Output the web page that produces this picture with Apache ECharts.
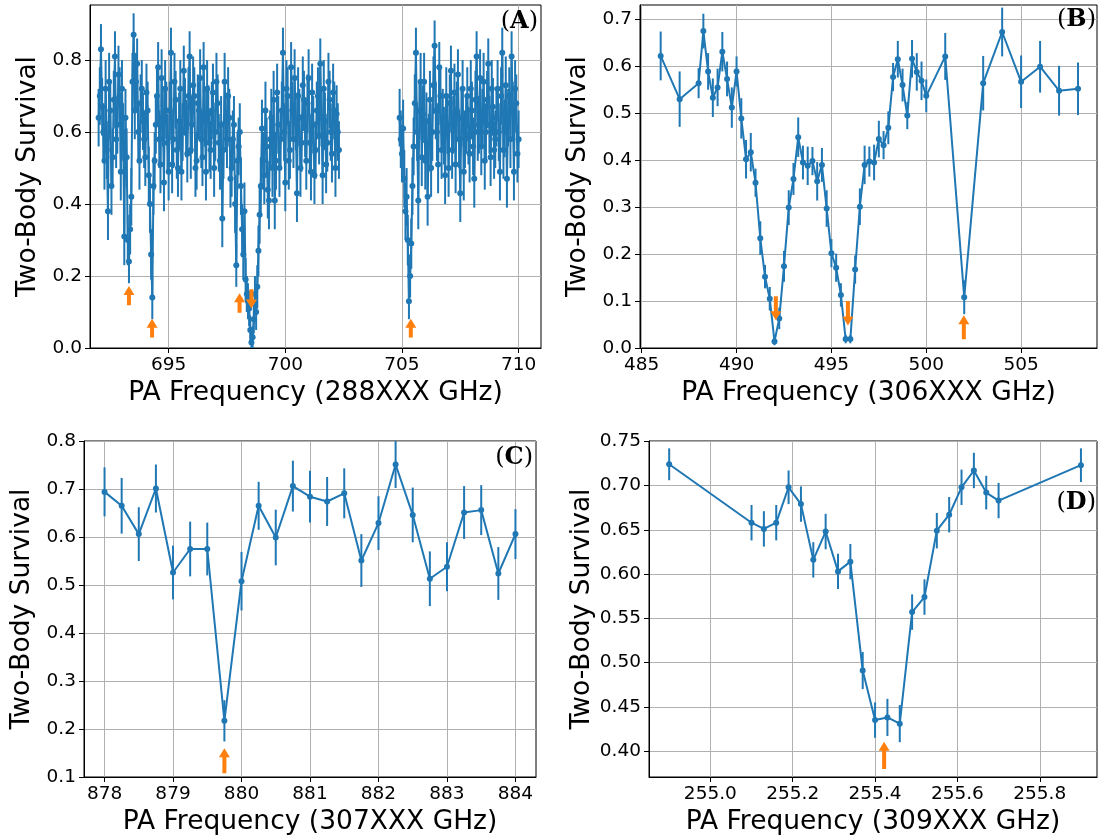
<!DOCTYPE html>
<html><head><meta charset="utf-8">
<script src="https://cdn.jsdelivr.net/npm/echarts@6/dist/echarts.min.js"></script>
<style>html,body{margin:0;padding:0;background:#fff}#c{width:1098px;height:838px}</style>
</head><body><div id="c"></div>
<script>
// ---------- Panel A : [frequency, survival, error] ----------
const scanA1 = [
[692.0,0.64,0.08],[692.05,0.70,0.08],[692.1,0.83,0.07],[692.15,0.67,0.08],[692.2,0.60,0.08],[692.25,0.52,0.08],[692.3,0.72,0.08],[692.35,0.55,0.08],[692.4,0.38,0.08],[692.45,0.74,0.08],
[692.5,0.66,0.08],[692.55,0.45,0.08],[692.6,0.53,0.08],[692.65,0.69,0.08],[692.7,0.81,0.07],[692.75,0.58,0.08],[692.8,0.62,0.08],[692.85,0.76,0.08],[692.9,0.70,0.08],[692.95,0.49,0.08],
[693.0,0.72,0.08],[693.05,0.60,0.08],[693.1,0.31,0.08],[693.15,0.64,0.08],[693.2,0.53,0.08],[693.25,0.30,0.07],[693.3,0.24,0.06],[693.35,0.33,0.07],[693.4,0.42,0.08],[693.45,0.74,0.08],
[693.5,0.87,0.06],[693.55,0.66,0.08],[693.6,0.74,0.08],[693.65,0.79,0.07],[693.7,0.60,0.08],[693.75,0.52,0.08],[693.8,0.68,0.08],[693.85,0.72,0.08],[693.9,0.63,0.08],[693.95,0.58,0.08],
[694.0,0.53,0.08],[694.05,0.71,0.08],[694.1,0.66,0.08],[694.15,0.48,0.08],[694.2,0.40,0.08],[694.25,0.26,0.07],[694.3,0.14,0.06],[694.35,0.45,0.08],[694.4,0.52,0.08],[694.45,0.62,0.08],
[694.5,0.70,0.08],[694.55,0.78,0.07],[694.6,0.58,0.08],[694.65,0.51,0.08],[694.7,0.75,0.08],[694.75,0.64,0.08],[694.8,0.46,0.08],[694.85,0.72,0.08],[694.9,0.66,0.08],[694.95,0.57,0.08],
[695.0,0.49,0.08],[695.05,0.66,0.08],[695.1,0.82,0.07],[695.15,0.51,0.08],[695.2,0.58,0.08],[695.25,0.74,0.08],[695.3,0.69,0.08],[695.35,0.55,0.08],[695.4,0.50,0.08],[695.45,0.63,0.08],
[695.5,0.72,0.08],[695.55,0.49,0.08],[695.6,0.60,0.08],[695.65,0.77,0.07],[695.7,0.67,0.08],[695.75,0.61,0.08],[695.8,0.54,0.08],[695.85,0.70,0.08],[695.9,0.81,0.07],[695.95,0.55,0.08],
[696.0,0.62,0.08],[696.05,0.73,0.08],[696.1,0.70,0.08],[696.15,0.50,0.08],[696.2,0.52,0.08],[696.25,0.68,0.08],[696.3,0.66,0.08],[696.35,0.75,0.08],[696.4,0.58,0.08],[696.45,0.53,0.08],
[696.5,0.78,0.07],[696.55,0.64,0.08],[696.6,0.49,0.08],[696.65,0.72,0.08],[696.7,0.65,0.08],[696.75,0.57,0.08],[696.8,0.55,0.08],[696.85,0.66,0.08],[696.9,0.71,0.08],[696.95,0.50,0.08],
[697.0,0.60,0.08],[697.05,0.74,0.08],[697.1,0.68,0.08],[697.15,0.57,0.08],[697.2,0.52,0.08],[697.25,0.62,0.08],[697.3,0.36,0.08],[697.35,0.55,0.08],[697.4,0.74,0.08],[697.45,0.63,0.08],
[697.5,0.58,0.08],[697.55,0.70,0.08],[697.6,0.64,0.08],[697.65,0.47,0.08],[697.7,0.50,0.08],[697.75,0.58,0.08],[697.8,0.62,0.08],[697.85,0.40,0.08],[697.9,0.23,0.06],[697.95,0.52,0.08],
[698.0,0.56,0.08],[698.05,0.60,0.08],[698.1,0.45,0.08],[698.15,0.33,0.07],[698.2,0.26,0.07],[698.25,0.38,0.08],[698.3,0.19,0.06],[698.35,0.15,0.05],[698.4,0.13,0.05],[698.45,0.11,0.05],
[698.5,0.05,0.04],[698.55,0.015,0.03],[698.6,0.03,0.03],[698.65,0.08,0.04],[698.7,0.15,0.05],[698.75,0.10,0.05],[698.8,0.17,0.06],[698.85,0.27,0.07],[698.9,0.37,0.08],[698.95,0.45,0.08],
[699.0,0.61,0.08],[699.05,0.52,0.08],[699.1,0.48,0.08],[699.15,0.66,0.08],[699.2,0.56,0.08],[699.25,0.44,0.08],[699.3,0.41,0.08],[699.35,0.58,0.08],[699.4,0.64,0.08],[699.45,0.50,0.08],
[699.5,0.69,0.08],[699.55,0.41,0.08],[699.6,0.52,0.08],[699.65,0.71,0.08],[699.7,0.62,0.08],[699.75,0.50,0.08],[699.8,0.58,0.08],[699.85,0.66,0.08],[699.9,0.82,0.07],[699.95,0.60,0.08],
[700.0,0.46,0.08],[700.05,0.72,0.08],[700.1,0.70,0.08],[700.15,0.52,0.08],[700.2,0.55,0.08],[700.25,0.78,0.07],[700.3,0.66,0.08],[700.35,0.58,0.08],[700.4,0.75,0.08],[700.45,0.63,0.08],
[700.5,0.43,0.08],[700.55,0.70,0.08],[700.6,0.64,0.08],[700.65,0.50,0.08],[700.7,0.57,0.08],[700.75,0.73,0.08],[700.8,0.69,0.08],[700.85,0.61,0.08],[700.9,0.52,0.08],[700.95,0.68,0.08],
[701.0,0.75,0.08],[701.05,0.57,0.08],[701.1,0.49,0.08],[701.15,0.71,0.08],[701.2,0.62,0.08],[701.25,0.48,0.08],[701.3,0.55,0.08],[701.35,0.66,0.08],[701.4,0.70,0.08],[701.45,0.59,0.08],
[701.5,0.79,0.07],[701.55,0.64,0.08],[701.6,0.48,0.08],[701.65,0.72,0.08],[701.7,0.63,0.08],[701.75,0.51,0.08],[701.8,0.57,0.08],[701.85,0.74,0.08],[701.9,0.69,0.08],[701.95,0.60,0.08],
[702.0,0.54,0.08],[702.05,0.71,0.08],[702.1,0.66,0.08],[702.15,0.50,0.08],[702.2,0.65,0.08],[702.25,0.60,0.08],[702.3,0.55,0.08]
];
const scanA2 = [
[704.9,0.64,0.08],[704.95,0.58,0.08],[705.0,0.54,0.08],[705.05,0.61,0.08],[705.1,0.47,0.08],[705.15,0.38,0.08],[705.2,0.42,0.08],[705.25,0.30,0.07],[705.3,0.13,0.05],[705.35,0.20,0.06],
[705.4,0.29,0.07],[705.45,0.45,0.08],[705.5,0.56,0.08],[705.55,0.68,0.08],[705.6,0.82,0.07],[705.65,0.60,0.08],[705.7,0.41,0.08],[705.75,0.66,0.08],[705.8,0.74,0.08],[705.85,0.53,0.08],
[705.9,0.65,0.08],[705.95,0.74,0.08],[706.0,0.52,0.08],[706.05,0.63,0.08],[706.1,0.42,0.08],[706.15,0.57,0.08],[706.2,0.69,0.08],[706.25,0.50,0.08],[706.3,0.60,0.08],[706.35,0.73,0.08],
[706.4,0.84,0.07],[706.45,0.66,0.08],[706.5,0.60,0.08],[706.55,0.51,0.08],[706.6,0.78,0.07],[706.65,0.70,0.08],[706.7,0.55,0.08],[706.75,0.64,0.08],[706.8,0.59,0.08],[706.85,0.48,0.08],
[706.9,0.70,0.08],[706.95,0.62,0.08],[707.0,0.50,0.08],[707.05,0.68,0.08],[707.1,0.77,0.07],[707.15,0.55,0.08],[707.2,0.62,0.08],[707.25,0.71,0.08],[707.3,0.51,0.08],[707.35,0.66,0.08],
[707.4,0.76,0.07],[707.45,0.58,0.08],[707.5,0.43,0.08],[707.55,0.64,0.08],[707.6,0.72,0.08],[707.65,0.49,0.08],[707.7,0.58,0.08],[707.75,0.62,0.08],[707.8,0.70,0.08],[707.85,0.59,0.08],
[707.9,0.54,0.08],[707.95,0.72,0.08],[708.0,0.66,0.08],[708.05,0.56,0.08],[708.1,0.47,0.08],[708.15,0.69,0.08],[708.2,0.81,0.07],[708.25,0.60,0.08],[708.3,0.62,0.08],[708.35,0.75,0.08],
[708.4,0.56,0.08],[708.45,0.64,0.08],[708.5,0.74,0.08],[708.55,0.52,0.08],[708.6,0.60,0.08],[708.65,0.69,0.08],[708.7,0.79,0.07],[708.75,0.62,0.08],[708.8,0.53,0.08],[708.85,0.72,0.08],
[708.9,0.67,0.08],[708.95,0.55,0.08],[709.0,0.58,0.08],[709.05,0.64,0.08],[709.1,0.72,0.08],[709.15,0.60,0.08],[709.2,0.49,0.08],[709.25,0.70,0.08],[709.3,0.82,0.07],[709.35,0.55,0.08],
[709.4,0.61,0.08],[709.45,0.73,0.08],[709.5,0.47,0.08],[709.55,0.64,0.08],[709.6,0.70,0.08],[709.65,0.58,0.08],[709.7,0.81,0.07],[709.75,0.66,0.08],[709.8,0.49,0.08],[709.85,0.72,0.08],
[709.9,0.68,0.08],[709.95,0.54,0.08],[710.0,0.58,0.08]
];
const arrowsA = [[693.30,0.119,0.172],[694.29,0.029,0.081],[698.04,0.098,0.152],[698.55,0.163,0.110],[705.38,0.029,0.081]];

// ---------- Panel B ----------
const freqB = [486.0,487.0,488.0,488.25,488.5,488.75,489.0,489.25,489.5,489.75,490.0,490.25,490.5,490.75,491.0,491.25,491.5,491.75,492.0,492.25,492.5,492.75,493.0,493.25,493.5,493.75,494.0,494.25,494.5,494.75,495.0,495.25,495.5,495.75,496.0,496.25,496.5,496.75,497.0,497.25,497.5,497.75,498.0,498.25,498.5,498.75,499.0,499.25,499.5,499.75,500.0,501.0,502.0,503.0,504.0,505.0,506.0,507.0,508.0];
const survB = [0.622,0.530,0.564,0.675,0.589,0.533,0.555,0.631,0.573,0.512,0.589,0.489,0.402,0.417,0.352,0.234,0.152,0.105,0.014,0.063,0.174,0.299,0.360,0.449,0.395,0.388,0.398,0.355,0.390,0.297,0.202,0.171,0.113,0.019,0.019,0.167,0.301,0.390,0.397,0.395,0.445,0.432,0.469,0.577,0.615,0.560,0.495,0.616,0.588,0.569,0.537,0.621,0.108,0.564,0.673,0.567,0.599,0.548,0.552];
const errB = [0.052,0.059,0.032,0.037,0.039,0.041,0.040,0.042,0.037,0.043,0.032,0.043,0.041,0.041,0.030,0.036,0.025,0.025,0.008,0.023,0.033,0.037,0.034,0.042,0.036,0.041,0.030,0.041,0.036,0.039,0.030,0.030,0.025,0.009,0.009,0.030,0.039,0.041,0.032,0.038,0.039,0.030,0.035,0.030,0.039,0.035,0.029,0.040,0.040,0.041,0.035,0.050,0.036,0.058,0.052,0.056,0.055,0.053,0.056];
const arrowsB = [[492.07,0.110,0.059],[495.87,0.100,0.048],[501.98,0.0185,0.070]];

// ---------- Panel C ----------
const freqC = [878.0,878.25,878.5,878.75,879.0,879.25,879.5,879.75,880.0,880.25,880.5,880.75,881.0,881.25,881.5,881.75,882.0,882.25,882.5,882.75,883.0,883.25,883.5,883.75,884.0];
const survC = [0.694,0.665,0.606,0.701,0.526,0.575,0.575,0.217,0.508,0.665,0.599,0.706,0.684,0.674,0.691,0.551,0.629,0.751,0.646,0.513,0.538,0.651,0.656,0.524,0.606];
const errC = [0.051,0.058,0.056,0.050,0.056,0.057,0.055,0.043,0.061,0.050,0.058,0.053,0.054,0.051,0.052,0.055,0.056,0.049,0.057,0.057,0.051,0.055,0.052,0.055,0.052];
const arrowsC = [[879.75,0.108,0.160]];

// ---------- Panel D ----------
const freqD = [254.90,255.10,255.13,255.16,255.19,255.22,255.25,255.28,255.31,255.34,255.37,255.40,255.43,255.46,255.49,255.52,255.55,255.58,255.61,255.64,255.67,255.70,255.90];
const survD = [0.724,0.658,0.651,0.658,0.698,0.679,0.616,0.648,0.603,0.614,0.491,0.435,0.438,0.431,0.557,0.574,0.649,0.667,0.698,0.717,0.692,0.683,0.723];
const errD = [0.018,0.020,0.020,0.020,0.019,0.020,0.020,0.020,0.020,0.020,0.021,0.020,0.021,0.021,0.020,0.020,0.020,0.020,0.020,0.020,0.019,0.020,0.019];
const arrowsD = [[255.422,0.3797,0.4105]];

// ---------- tick labels ----------
const ticksAx = [695,700,705,710], ticksAy = [0.0,0.2,0.4,0.6,0.8];
const ticksBx = [485,490,495,500,505], ticksBy = [0.0,0.1,0.2,0.3,0.4,0.5,0.6,0.7];
const ticksCx = [878,879,880,881,882,883,884], ticksCy = [0.1,0.2,0.3,0.4,0.5,0.6,0.7,0.8];
const ticksDx = [255.0,255.2,255.4,255.6,255.8], ticksDy = [0.40,0.45,0.50,0.55,0.60,0.65,0.70,0.75];
const xTitles = ['PA Frequency (288XXX GHz)','PA Frequency (306XXX GHz)','PA Frequency (307XXX GHz)','PA Frequency (309XXX GHz)'];
const yTitle = 'Two-Body Survival';
const panelTags = ['A','B','C','D'];

const BLUE = '#1f77b4', ORANGE = '#ff7f0e';
const zip = (xs, ys, es) => xs.map((x, i) => [x, ys[i], es[i]]);

function xAx(gi, min, max, ticks, dec, name) {
  return {type:'value', gridIndex:gi, min:min, max:max, name:name, nameLocation:'middle', nameGap:32,
    nameTextStyle:{fontFamily:'DejaVu Sans', fontSize:26.5, color:'#000'},
    axisLine:{show:true, onZero:false, lineStyle:{color:'#000', width:1}},
    axisTick:{show:true, length:5, lineStyle:{color:'#000', width:1}, customValues:ticks},
    axisLabel:{customValues:ticks, formatter:v => Number(v).toFixed(dec), fontFamily:'DejaVu Sans', fontSize:18.5, color:'#000', margin:8},
    splitLine:{show:true, lineStyle:{color:'#b0b0b0', width:1}}};
}
function yAx(gi, min, max, ticks, dec, gap) {
  return {type:'value', gridIndex:gi, min:min, max:max, name:yTitle, nameLocation:'middle', nameGap:gap,
    nameTextStyle:{fontFamily:'DejaVu Sans', fontSize:26.5, color:'#000'},
    axisLine:{show:true, onZero:false, lineStyle:{color:'#000', width:1}},
    axisTick:{show:true, length:5, lineStyle:{color:'#000', width:1}, customValues:ticks},
    axisLabel:{customValues:ticks, formatter:v => Number(v).toFixed(dec), fontFamily:'DejaVu Sans', fontSize:18.5, color:'#000', margin:8},
    splitLine:{show:true, lineStyle:{color:'#b0b0b0', width:1}}};
}
function errItem(params, api) {
  const x = api.value(0), y = api.value(1), e = api.value(2);
  const a = api.coord([x, y - e]), b = api.coord([x, y + e]);
  return {type:'line', shape:{x1:a[0], y1:a[1], x2:b[0], y2:b[1]}, style:{stroke:BLUE, lineWidth:2}};
}
function arrowItem(params, api) {
  const x = api.value(0);
  const p0 = api.coord([x, api.value(1)]), p1 = api.coord([x, api.value(2)]);
  const dir = p1[1] < p0[1] ? -1 : 1;
  const hl = 9, hw = 5.5, sw = 2, cx = p0[0], yb = p0[1], yt = p1[1], yh = yt - dir * hl;
  return {type:'polygon', shape:{points:[[cx-sw,yb],[cx-sw,yh],[cx-hw,yh],[cx,yt],[cx+hw,yh],[cx+sw,yh],[cx+sw,yb]]}, style:{fill:ORANGE}};
}
function lineS(i, data) {
  return {type:'line', xAxisIndex:i, yAxisIndex:i, data:data.map(d => [d[0], d[1]]), symbol:'circle', symbolSize:6,
    showSymbol:true, showAllSymbol:true, itemStyle:{color:BLUE}, lineStyle:{color:BLUE, width:2}, z:3, silent:true};
}
function errS(i, data) {
  return {type:'custom', xAxisIndex:i, yAxisIndex:i, data:data, renderItem:errItem, clip:true, z:2, silent:true};
}
function arrS(i, data) {
  return {type:'custom', xAxisIndex:i, yAxisIndex:i, data:data, renderItem:arrowItem, z:4, silent:true};
}

const dataB = zip(freqB, survB, errB), dataC = zip(freqC, survC, errC), dataD = zip(freqD, survD, errD);

function tag(letter, xr, yc) {
  return {type:'text', x:xr, y:yc, z:10, style:{text:'{p|(}{b|' + letter + '}{p|)}', align:'right', verticalAlign:'middle',
    rich:{p:{fontFamily:'DejaVu Serif', fontSize:24, fill:'#000'}, b:{fontFamily:'DejaVu Serif', fontWeight:'bold', fontSize:24, fill:'#000'}}}};
}

const chart = echarts.init(document.getElementById('c'), null, {renderer:'canvas'});
chart.setOption({
  animation:false,
  backgroundColor:'#fff',
  grid:[
    {left:90, top:5, width:451, height:343, show:true, borderColor:'#000', borderWidth:1, containLabel:false},
    {left:640, top:5, width:457, height:343, show:true, borderColor:'#000', borderWidth:1, containLabel:false},
    {left:84, top:441, width:452, height:336, show:true, borderColor:'#000', borderWidth:1, containLabel:false},
    {left:649, top:441, width:448, height:336, show:true, borderColor:'#000', borderWidth:1, containLabel:false}
  ],
  xAxis:[
    xAx(0, 691.63, 710.96, ticksAx, 0, xTitles[0]),
    xAx(1, 484.91, 509.0, ticksBx, 0, xTitles[1]),
    xAx(2, 877.70, 884.30, ticksCx, 0, xTitles[2]),
    xAx(3, 254.851, 255.939, ticksDx, 1, xTitles[3])
  ],
  yAxis:[
    yAx(0, 0, 0.953, ticksAy, 1, 48),
    yAx(1, 0, 0.7305, ticksBy, 1, 48),
    yAx(2, 0.1, 0.8, ticksCy, 1, 48),
    yAx(3, 0.3707, 0.7503, ticksDy, 2, 48)
  ],
  series:[
    errS(0, scanA1.concat(scanA2)), lineS(0, scanA1), lineS(0, scanA2), arrS(0, arrowsA),
    errS(1, dataB), lineS(1, dataB), arrS(1, arrowsB),
    errS(2, dataC), lineS(2, dataC), arrS(2, arrowsC),
    errS(3, dataD), lineS(3, dataD), arrS(3, arrowsD)
  ],
  graphic:[tag(panelTags[0], 538, 22), tag(panelTags[1], 1096, 20), tag(panelTags[2], 533, 458), tag(panelTags[3], 1096, 503)]
});
</script>
</body></html>
